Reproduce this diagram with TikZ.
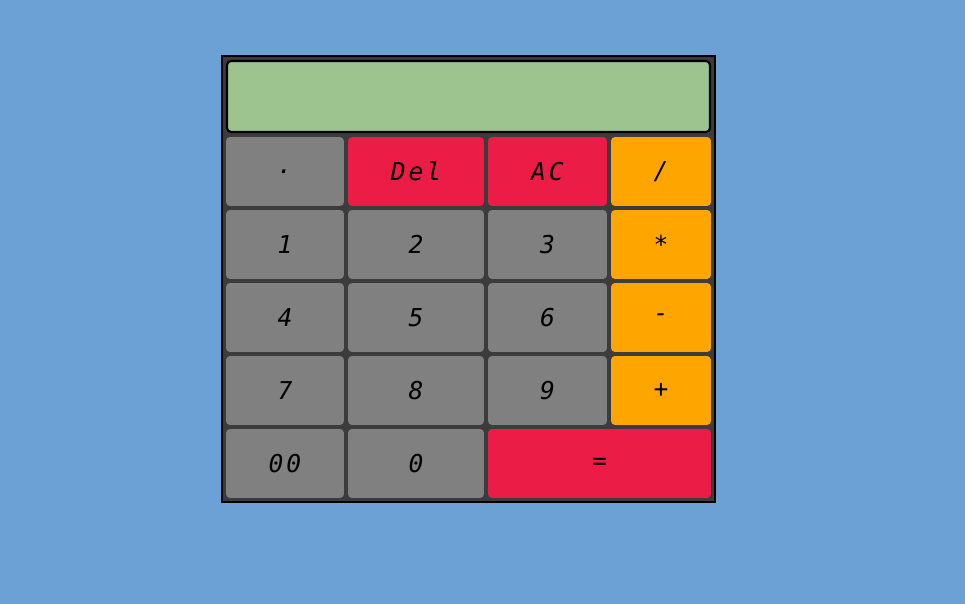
\documentclass[tikz,border=0pt]{standalone}
\usepackage{fontspec}
\newfontfamily\lcdfont[LetterSpace=12]{DejaVu Sans Mono}
\usepackage{tikz}
\usetikzlibrary{backgrounds}
\definecolor{sky}{RGB}{107,161,212}
\definecolor{case}{RGB}{60,60,60}
\definecolor{screen}{RGB}{157,195,143}
\definecolor{keygray}{RGB}{128,128,128}
\definecolor{keyred}{RGB}{235,28,70}
\definecolor{keyorange}{RGB}{255,165,0}
\tikzset{
  key/.style={rectangle, rounded corners=2.3pt, minimum height=1.38cm, inner sep=0pt,
    font=\lcdfont\itshape\fontsize{14}{16}\selectfont, text=black},
  numkey/.style={key, fill=keygray},
  redkey/.style={key, fill=keyred},
  opkey/.style={key, fill=keyorange, minimum width=2.0cm}
}

\begin{document}
\begin{tikzpicture}[x=0.02cm,y=-0.02cm]
\fill[sky] (0,0) rectangle (965,604);
\draw[black, line width=1.2pt, fill=case] (222,56) rectangle (715,502);
\draw[black, line width=1.2pt, fill=screen, rounded corners=2.3pt] (227,61) rectangle (710,132);
% row 1
\node[numkey, minimum width=2.36cm] (dot) at (285,171.5) {.};
\node[redkey, minimum width=2.72cm] (del) at (416,171.5) {Del};
\node[redkey, minimum width=2.38cm] (ac) at (547.5,171.5) {AC};
\node[opkey] (div) at (661,171.5) {/};
% row 2
\node[numkey, minimum width=2.36cm] (1) at (285,244.5) {1};
\node[numkey, minimum width=2.72cm] (2) at (416,244.5) {2};
\node[numkey, minimum width=2.38cm] (3) at (547.5,244.5) {3};
\node[opkey] (mul) at (661,244.5) {*};
% row 3
\node[numkey, minimum width=2.36cm] (4) at (285,317.5) {4};
\node[numkey, minimum width=2.72cm] (5) at (416,317.5) {5};
\node[numkey, minimum width=2.38cm] (6) at (547.5,317.5) {6};
\node[opkey] (sub) at (661,317.5) {-};
% row 4
\node[numkey, minimum width=2.36cm] (7) at (285,390.5) {7};
\node[numkey, minimum width=2.72cm] (8) at (416,390.5) {8};
\node[numkey, minimum width=2.38cm] (9) at (547.5,390.5) {9};
\node[opkey] (add) at (661,390.5) {+};
% row 5
\node[numkey, minimum width=2.36cm] (00) at (285,463.5) {00};
\node[numkey, minimum width=2.72cm] (0) at (416,463.5) {0};
\node[redkey, minimum width=4.46cm] (eq) at (599.5,463.5) {=};
\end{tikzpicture}
\end{document}
